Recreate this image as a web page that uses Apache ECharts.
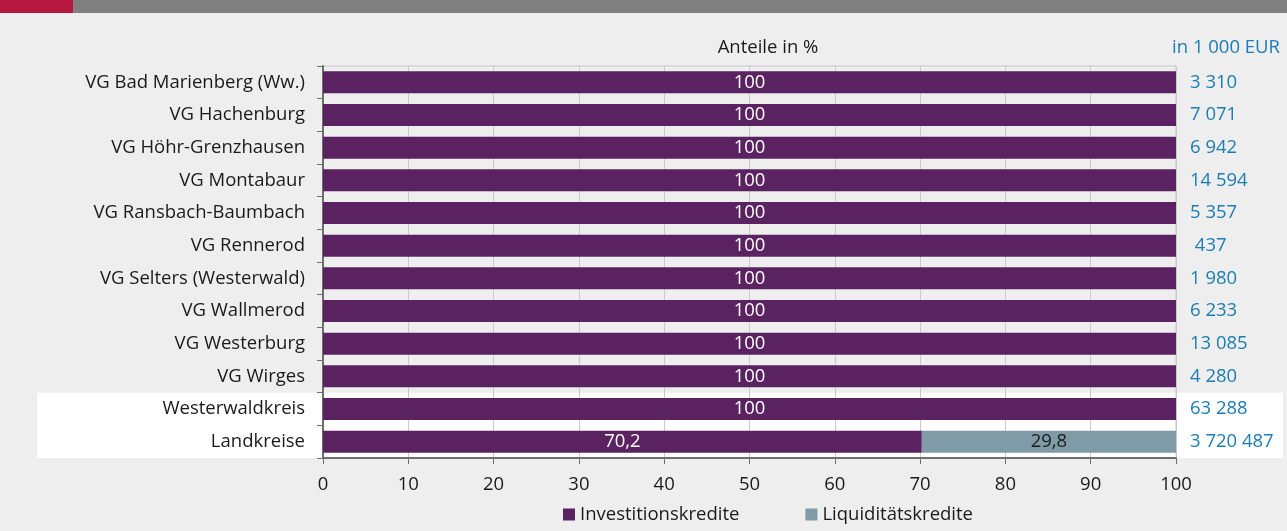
<!DOCTYPE html>
<html>
<head>
<meta charset="utf-8">
<script src="https://cdn.jsdelivr.net/npm/echarts@6/dist/echarts.min.js"></script>
<style>
  html, body { margin: 0; padding: 0; background: #edeeed; }
  #main { width: 1287px; height: 531px; }
</style>
</head>
<body>
<div id="main"></div>
<script>
// Anteile in %, Verbandsgemeinden im Westerwaldkreis
var categories = ['VG Bad Marienberg (Ww.)', 'VG Hachenburg', 'VG Höhr-Grenzhausen', 'VG Montabaur',
  'VG Ransbach-Baumbach', 'VG Rennerod', 'VG Selters (Westerwald)', 'VG Wallmerod',
  'VG Westerburg', 'VG Wirges', 'Westerwaldkreis', 'Landkreise']
var investition = [100, 100, 100, 100, 100, 100, 100, 100, 100, 100, 100, 70.2]
var liquiditaet = [0, 0, 0, 0, 0, 0, 0, 0, 0, 0, 0, 29.8]
var totalsEur = ['3 310', '7 071', '6 942', '14 594', '5 357', ' 437', '1 980', '6 233', '13 085', '4 280', '63 288', '3 720 487']
var xTicks = [0, 10, 20, 30, 40, 50, 60, 70, 80, 90, 100]

var FONT = 'Open Sans'
var FS = 18.5
var chart = echarts.init(document.getElementById('main'))

function fmt(v) {
  return String(v).replace('.', ',')
}

chart.setOption({
  backgroundColor: '#edeeed',
  textStyle: { fontFamily: FONT },
  animation: false,
  title: [{
    text: 'Anteile in %',
    left: 763,
    top: 33,
    textAlign: 'center',
    textStyle: { fontFamily: FONT, fontSize: FS, fontWeight: 'normal', color: '#1a1a1a' }
  }, {
    text: 'in 1 000 EUR',
    right: 2,
    top: 33,
    textStyle: { fontFamily: FONT, fontSize: FS, fontWeight: 'normal', color: '#1b7db3' }
  }],
  legend: {
    bottom: 2,
    left: 558,
    itemWidth: 12,
    itemHeight: 12,
    itemGap: 66,
    icon: 'rect',
    textStyle: { fontFamily: FONT, fontSize: FS, color: '#1a1a1a' },
    data: ['Investitionskredite', 'Liquiditätskredite']
  },
  grid: {
    left: 323,
    right: 111,
    top: 66,
    bottom: 73,
    show: true,
    backgroundColor: 'transparent',
    borderColor: '#c6c6c6',
    borderWidth: 1
  },
  xAxis: {
    type: 'value',
    min: 0,
    max: 100,
    interval: 10,
    axisLine: { show: true, lineStyle: { color: '#6e6e6e', width: 2 } },
    axisTick: { show: true, length: 6, lineStyle: { color: '#6e6e6e' } },
    axisLabel: {
      fontFamily: FONT, fontSize: FS, color: '#1a1a1a', margin: 17,
      formatter: function (v) { return xTicks.indexOf(v) >= 0 ? String(v) : '' }
    },
    splitLine: { show: true, lineStyle: { color: '#c9c9c9' } }
  },
  yAxis: [{
    type: 'category',
    inverse: true,
    data: categories,
    axisLine: { show: true, lineStyle: { color: '#6e6e6e', width: 2 } },
    axisTick: { show: true, length: 6, lineStyle: { color: '#6e6e6e' } },
    axisLabel: { fontFamily: FONT, fontSize: FS, color: '#1a1a1a', margin: 18 }
  }, {
    type: 'category',
    inverse: true,
    position: 'right',
    data: totalsEur,
    axisLine: { show: false },
    axisTick: { show: false },
    axisLabel: { fontFamily: FONT, fontSize: FS, color: '#1b7db3', margin: 14, align: 'left' }
  }],
  series: [{
    name: 'Investitionskredite',
    type: 'bar',
    stack: 'total',
    barWidth: 22,
    data: investition,
    itemStyle: { color: '#5a2261' },
    label: {
      show: true,
      position: 'inside',
      fontFamily: FONT,
      fontSize: FS,
      color: '#ffffff',
      formatter: function (p) { return p.value > 0 ? fmt(p.value) : '' }
    }
  }, {
    name: 'Liquiditätskredite',
    type: 'bar',
    stack: 'total',
    barWidth: 22,
    data: liquiditaet,
    itemStyle: { color: '#7f9ba7' },
    label: {
      show: true,
      position: 'inside',
      fontFamily: FONT,
      fontSize: FS,
      color: '#1a1a1a',
      formatter: function (p) { return p.value > 0 ? fmt(p.value) : '' }
    }
  }]
})

// white band behind the last two rows (Westerwaldkreis, Landkreise)
var bandTop = chart.convertToPixel({ yAxisIndex: 0 }, categories[10])
var bandBottom = chart.convertToPixel({ yAxisIndex: 0 }, categories[11])
var half = (bandBottom - bandTop) / 2
chart.setOption({
  graphic: [{
    type: 'rect',
    z: -10,
    silent: true,
    shape: { x: 37, y: bandTop - half, width: 1283 - 37, height: bandBottom - bandTop + 2 * half },
    style: { fill: '#ffffff' }
  }, {
    type: 'group',
    children: [
      { type: 'rect', z: 10, shape: { x: 0, y: 0, width: 73, height: 13 }, style: { fill: '#b5173f' } },
      { type: 'rect', z: 10, shape: { x: 73, y: 0, width: 1287 - 73, height: 13 }, style: { fill: '#808080' } }
    ]
  }]
})
</script>
</body>
</html>
